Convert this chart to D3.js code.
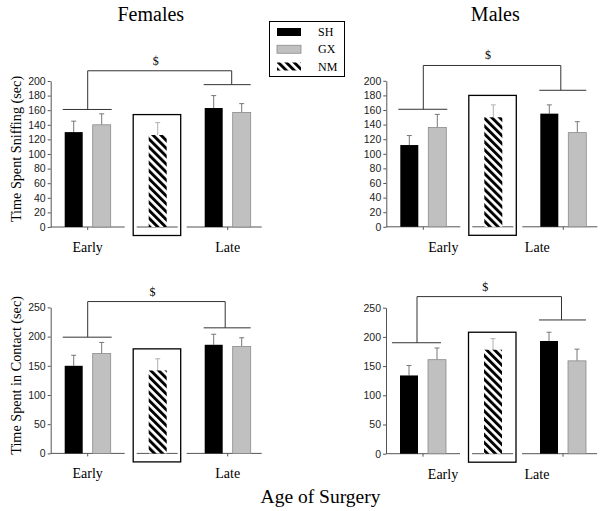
<!DOCTYPE html>
<html>
<head>
<meta charset="utf-8">
<script src="https://cdn.jsdelivr.net/npm/d3@7/dist/d3.min.js"></script>
<style>
  html, body { margin: 0; padding: 0; background: #fff; }
  svg { display: block; }
</style>
</head>
<body>
<svg id="chart" width="603" height="511"></svg>
<script>
// ---------------- DATA ----------------
const sexes = ["Females", "Males"];
const measures = ["Time Spent Sniffing (sec)", "Time Spent in Contact (sec)"];
const groups = ["Early", "Late"];
const series = ["SH", "GX", "NM"];
// bar order: Early SH, Early GX, NM, Late SH, Late GX
const barSlots = ["Early SH", "Early GX", "NM", "Late SH", "Late GX"];
const barSeries = ["SH", "GX", "NM", "SH", "GX"];
const allSlots = ["Early SH", "Early GX", "gap1", "NM", "gap2", "Late SH", "Late GX"];

const sniffFemaleMean = [130, 140, 126, 163, 157];
const sniffFemaleErr  = [15, 15, 17, 17, 12];
const sniffMaleMean   = [112, 136, 150, 155, 129];
const sniffMaleErr    = [13, 18, 17, 12, 15];
const contactFemaleMean = [150, 171, 142, 186, 183];
const contactFemaleErr  = [18, 19, 20, 18, 15];
const contactMaleMean   = [134, 161, 178, 193, 159];
const contactMaleErr    = [17, 20, 19, 15, 20];

const sniffTicks = [0, 20, 40, 60, 80, 100, 120, 140, 160, 180, 200];
const contactTicks = [0, 50, 100, 150, 200, 250];

// significance bracket levels (data units): [early bar, late bar, top]
const bracketSniffFemale = [161, 195, 214];
const bracketSniffMale = [161, 187, 221];
const bracketContactFemale = [199, 215, 260];
const bracketContactMale = [190, 229, 269];
const sigLabel = "$";
// top of NM frame (data units)
const nmFrameTop = [154, 180, 179, 208];

const xTitle = "Age of Surgery";

// ---------------- LAYOUT ----------------
const svg = d3.select("#chart");
svg.append("rect").attr("width", 603).attr("height", 511).attr("fill", "#fff");

const defs = svg.append("defs");
const pat = defs.append("pattern")
  .attr("id", "hatch").attr("patternUnits", "userSpaceOnUse")
  .attr("width", 5.6).attr("height", 5.6)
  .attr("patternTransform", "rotate(-45)");
pat.append("rect").attr("width", 5.6).attr("height", 5.6).attr("fill", "#fff");
pat.append("rect").attr("width", 2.9).attr("height", 5.6).attr("fill", "#000");

const serif = "'Liberation Serif', 'Times New Roman', Times, serif";
const sans = "'Liberation Sans', Arial, Helvetica, sans-serif";
const fillOf = { SH: "#000", GX: "#c0c0c0", NM: "url(#hatch)" };

const panelDefs = [
  { mean: sniffFemaleMean, err: sniffFemaleErr, ticks: sniffTicks, max: 200, br: bracketSniffFemale, frame: nmFrameTop[0],
    x0: 50.7, y0: 227, label: measures[0], col: 0, earlyShift: 0, lateVShift: 4, labelPos: [37, 177] },
  { mean: sniffMaleMean, err: sniffMaleErr, ticks: sniffTicks, max: 200, br: bracketSniffMale, frame: nmFrameTop[1],
    x0: 386.3, y0: 226.8, label: null, col: 1, earlyShift: 0, lateVShift: -2.5, labelPos: [57, 151] },
  { mean: contactFemaleMean, err: contactFemaleErr, ticks: contactTicks, max: 250, br: bracketContactFemale, frame: nmFrameTop[2],
    x0: 50.7, y0: 453.4, label: measures[1], col: 0, earlyShift: 0, lateVShift: -2.5, labelPos: [37, 177] },
  { mean: contactMaleMean, err: contactMaleErr, ticks: contactTicks, max: 250, br: bracketContactMale, frame: nmFrameTop[3],
    x0: 386.0, y0: 453.7, label: null, col: 1, earlyShift: -6, lateVShift: -1.5, labelPos: [57, 151] }
];

const axisColor = "#555";
const bw = 18;

panelDefs.forEach(p => {
  const g = svg.append("g");
  const y = d3.scaleLinear().domain([0, p.max]).range([p.y0, p.y0 - 146]);
  const x = d3.scalePoint().domain(allSlots).range([p.x0 + 23, p.x0 + 191]);

  // y axis
  const yAxis = d3.axisLeft(y).tickValues(p.ticks).tickSize(3).tickPadding(2).tickSizeOuter(0);
  const ag = g.append("g").attr("transform", `translate(${p.x0},0)`).call(yAxis);
  ag.select(".domain").attr("stroke", axisColor);
  ag.selectAll(".tick line").attr("stroke", axisColor);
  ag.selectAll(".tick text").attr("font-family", sans).attr("font-size", 10.5).attr("fill", "#222");

  // baselines
  const earlyC = (x("Early SH") + x("Early GX")) / 2;
  const lateC = (x("Late SH") + x("Late GX")) / 2;
  g.append("line").attr("x1", p.x0).attr("x2", x("gap1") - 5).attr("y1", y(0)).attr("y2", y(0)).attr("stroke", axisColor);
  g.append("line").attr("x1", x("gap2") + 1).attr("x2", x("Late GX") + 20).attr("y1", y(0)).attr("y2", y(0)).attr("stroke", axisColor);
  [earlyC, lateC].forEach(c => g.append("line").attr("x1", c).attr("x2", c).attr("y1", y(0)).attr("y2", y(0) + 3).attr("stroke", axisColor));

  // NM frame
  const fx1 = x("NM") - 24.5, fx2 = x("NM") + 23;
  g.append("rect").attr("x", fx1).attr("y", y(p.frame)).attr("width", fx2 - fx1).attr("height", y(0) + 8.5 - y(p.frame))
    .attr("fill", "none").attr("stroke", "#000").attr("stroke-width", 1.3);
  g.append("line").attr("x1", x("NM") - 21).attr("x2", x("NM") + 20).attr("y1", y(0)).attr("y2", y(0)).attr("stroke", axisColor);

  // bars + error bars
  barSlots.forEach((s, i) => {
    const cx = x(s), v = p.mean[i], e = p.err[i], ser = barSeries[i];
    const ec = ser === "NM" ? "#b0b0b0" : "#777";
    g.append("line").attr("x1", cx).attr("x2", cx).attr("y1", y(v)).attr("y2", y(v + e)).attr("stroke", ec);
    g.append("line").attr("x1", cx - 2.5).attr("x2", cx + 2.5).attr("y1", y(v + e)).attr("y2", y(v + e)).attr("stroke", ec);
    g.append("rect").attr("x", cx - bw / 2).attr("y", y(v)).attr("width", bw).attr("height", y(0) - y(v))
      .attr("fill", fillOf[ser])
      .attr("stroke", ser === "GX" ? "#8a8a8a" : "none").attr("stroke-width", 0.8);
  });

  // significance brackets
  const bc = "#333";
  const eL = x("Early SH") - bw / 2 - 2 + p.earlyShift, eR = x("Early GX") + bw / 2 + 1 + p.earlyShift;
  const eV = earlyC + p.earlyShift;
  const lL = x("Late SH") - bw / 2 - 1, lR = x("Late GX") + bw / 2;
  const lV = lateC + p.lateVShift;
  g.append("line").attr("x1", eL).attr("x2", eR).attr("y1", y(p.br[0])).attr("y2", y(p.br[0])).attr("stroke", bc);
  g.append("line").attr("x1", lL).attr("x2", lR).attr("y1", y(p.br[1])).attr("y2", y(p.br[1])).attr("stroke", bc);
  g.append("path").attr("fill", "none").attr("stroke", bc)
    .attr("d", `M${eV},${y(p.br[0])}V${y(p.br[2])}H${lV}V${y(p.br[1])}`);
  g.append("text").attr("x", (eV + lV) / 2 - 4).attr("y", y(p.br[2]) - 6)
    .attr("text-anchor", "middle").attr("font-family", serif).attr("font-size", 12)
    .attr("fill", "#000").text(sigLabel);

  // group labels
  groups.forEach((gr, i) => {
    g.append("text").attr("x", p.x0 + p.labelPos[i]).attr("y", p.y0 + 25)
      .attr("text-anchor", "middle").attr("font-family", serif).attr("font-size", 14).attr("fill", "#000").text(gr);
  });

  // y label
  if (p.label) {
    const cy = p.y0 - 78;
    g.append("text").attr("transform", `translate(20.5,${cy}) rotate(-90)`)
      .attr("text-anchor", "middle").attr("font-family", serif).attr("font-size", 14.2).attr("fill", "#000").text(p.label);
  }
});

// titles
[150.8, 495.3].forEach((cx, i) => {
  svg.append("text").attr("x", cx).attr("y", 20.5).attr("text-anchor", "middle")
    .attr("font-family", serif).attr("font-size", 20).attr("fill", "#000").text(sexes[i]);
});

// x title
svg.append("text").attr("x", 320.5).attr("y", 502.5).attr("text-anchor", "middle")
  .attr("font-family", serif).attr("font-size", 19.5).attr("fill", "#000").text(xTitle);

// legend
const lg = svg.append("g");
lg.append("rect").attr("x", 269.5).attr("y", 21.5).attr("width", 75).attr("height", 55)
  .attr("fill", "#fff").attr("stroke", "#000");
const ly = d3.scalePoint().domain(series).range([32, 66.5]);
series.forEach(s => {
  lg.append("rect").attr("x", 277).attr("y", ly(s) - 4).attr("width", 24).attr("height", 8)
    .attr("fill", fillOf[s]).attr("stroke", s === "GX" ? "#8a8a8a" : "none").attr("stroke-width", 0.8);
  lg.append("text").attr("x", 318).attr("y", ly(s) + 4).attr("font-family", serif).attr("font-size", 12)
    .attr("fill", "#000").text(s);
});
</script>
</body>
</html>
